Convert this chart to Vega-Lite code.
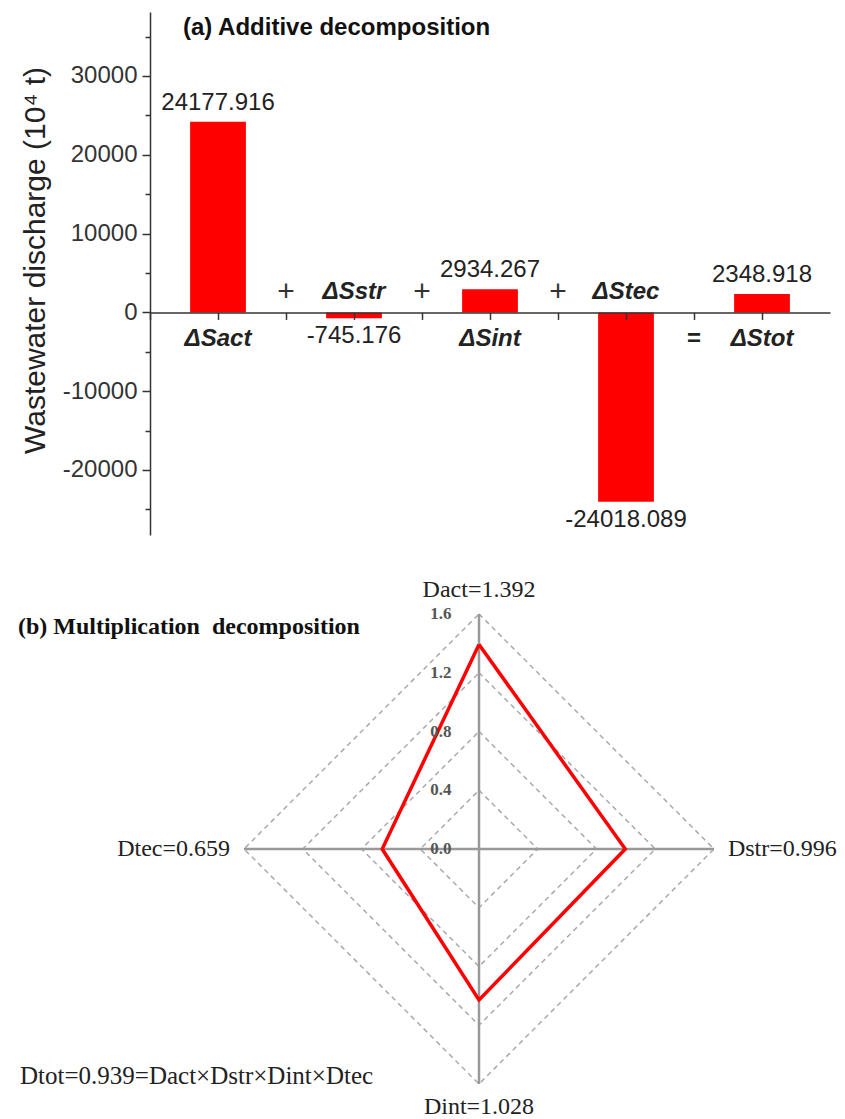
{
  "$schema": "https://vega.github.io/schema/vega-lite/v6.json",
  "background": "white",
  "padding": {"left": 17, "top": 12, "right": 5, "bottom": 0},
  "bounds": "flush",
  "spacing": 25,
  "config": {"view": {"stroke": null}, "axis": {"grid": false}},
  "datasets": {
    "additive": [
      {"term": "ΔSact", "value": 24177.916, "label": "24177.916"},
      {"term": "ΔSstr", "value": -745.176, "label": "-745.176"},
      {"term": "ΔSint", "value": 2934.267, "label": "2934.267"},
      {"term": "ΔStec", "value": -24018.089, "label": "-24018.089"},
      {"term": "ΔStot", "value": 2348.918, "label": "2348.918"}
    ],
    "ops": [
      {"term": "ΔSstr", "op": "+"},
      {"term": "ΔSint", "op": "+"},
      {"term": "ΔStec", "op": "+"},
      {"term": "ΔStot", "op": "="}
    ],
    "factors": [
      {"factor": "Dact", "value": 1.392, "dir": "up", "order": 1, "label": "Dact=1.392"},
      {"factor": "Dstr", "value": 0.996, "dir": "right", "order": 2, "label": "Dstr=0.996"},
      {"factor": "Dint", "value": 1.028, "dir": "down", "order": 3, "label": "Dint=1.028"},
      {"factor": "Dtec", "value": 0.659, "dir": "left", "order": 4, "label": "Dtec=0.659"},
      {"factor": "Dact", "value": 1.392, "dir": "up", "order": 5, "label": "Dact=1.392"}
    ],
    "grid": [
      {"level": 0.4, "k": 0, "dir": "up"}, {"level": 0.4, "k": 1, "dir": "right"}, {"level": 0.4, "k": 2, "dir": "down"}, {"level": 0.4, "k": 3, "dir": "left"}, {"level": 0.4, "k": 4, "dir": "up"},
      {"level": 0.8, "k": 0, "dir": "up"}, {"level": 0.8, "k": 1, "dir": "right"}, {"level": 0.8, "k": 2, "dir": "down"}, {"level": 0.8, "k": 3, "dir": "left"}, {"level": 0.8, "k": 4, "dir": "up"},
      {"level": 1.2, "k": 0, "dir": "up"}, {"level": 1.2, "k": 1, "dir": "right"}, {"level": 1.2, "k": 2, "dir": "down"}, {"level": 1.2, "k": 3, "dir": "left"}, {"level": 1.2, "k": 4, "dir": "up"},
      {"level": 1.6, "k": 0, "dir": "up"}, {"level": 1.6, "k": 1, "dir": "right"}, {"level": 1.6, "k": 2, "dir": "down"}, {"level": 1.6, "k": 3, "dir": "left"}, {"level": 1.6, "k": 4, "dir": "up"}
    ],
    "levels": [
      {"level": 0.0, "label": "0.0"},
      {"level": 0.4, "label": "0.4"},
      {"level": 0.8, "label": "0.8"},
      {"level": 1.2, "label": "1.2"},
      {"level": 1.6, "label": "1.6"}
    ],
    "one": [{}]
  },
  "vconcat": [
    {
      "width": 680,
      "height": 523,
      "resolve": {"axis": {"x": "independent", "y": "independent"}},
      "layer": [
        {
          "data": {"name": "additive"},
          "mark": {"type": "bar", "color": "#ff0000", "width": {"band": 0.41}},
          "encoding": {
            "x": {"field": "term", "type": "nominal",
              "scale": {"type": "band", "domain": ["ΔSact", "ΔSstr", "ΔSint", "ΔStec", "ΔStot"], "paddingInner": 0, "paddingOuter": 0},
              "axis": {"orient": "bottom", "offset": -222.6, "labels": false, "title": null, "tickSize": 7, "tickWidth": 1.5, "tickColor": "#333", "domainColor": "#333", "domainWidth": 1.5, "zindex": 1}},
            "y": {"field": "value", "type": "quantitative",
              "scale": {"domain": [-28250, 38120], "nice": false, "zero": false},
              "axis": {"orient": "left", "values": [-20000, -10000, 0, 10000, 20000, 30000], "labelExpr": "'' + datum.value",
                "labelFont": "Liberation Sans", "labelFontSize": 24, "labelColor": "#333", "labelPadding": 5, "labelFlush": false, "labelOverlap": false,
                "tickSize": 8, "tickWidth": 1.5, "tickColor": "#333", "domainColor": "#333", "domainWidth": 1.5,
                "title": "Wastewater discharge (10⁴ t)", "titleFont": "Liberation Sans", "titleFontSize": 30, "titleFontWeight": "normal", "titleColor": "#222", "titlePadding": 12, "titleY": 248}}
          }
        },
        {
          "data": {"name": "additive"},
          "transform": [{"filter": "datum.value > 0"}],
          "mark": {"type": "text", "font": "Liberation Sans", "fontSize": 24, "color": "#222", "baseline": "middle", "dy": -19},
          "encoding": {
            "x": {"field": "term", "type": "nominal",
              "scale": {"type": "band", "domain": ["ΔSact", "ΔSstr", "ΔSint", "ΔStec", "ΔStot"], "paddingInner": 0, "paddingOuter": 0},
              "axis": {"orient": "bottom", "offset": -222.6, "bandPosition": 0, "labels": false, "domain": false, "title": null, "tickSize": 7, "tickWidth": 1.5, "tickColor": "#333", "zindex": 1}},
            "y": {"field": "value", "type": "quantitative",
              "scale": {"domain": [-28250, 38120], "nice": false, "zero": false},
              "axis": {"orient": "left", "values": [-25000, -15000, -5000, 5000, 15000, 25000, 35000], "labels": false, "domain": false, "title": null, "tickSize": 5, "tickWidth": 1.5, "tickColor": "#333"}},
            "text": {"field": "label"}
          }
        },
        {
          "data": {"name": "additive"},
          "transform": [{"filter": "datum.value < 0"}],
          "mark": {"type": "text", "font": "Liberation Sans", "fontSize": 24, "color": "#222", "baseline": "middle", "dy": 18},
          "encoding": {
            "x": {"field": "term", "type": "nominal", "scale": {"type": "band", "domain": ["ΔSact", "ΔSstr", "ΔSint", "ΔStec", "ΔStot"], "paddingInner": 0, "paddingOuter": 0}, "axis": null},
            "y": {"field": "value", "type": "quantitative", "scale": {"domain": [-28250, 38120], "nice": false, "zero": false}, "axis": null},
            "text": {"field": "label"}
          }
        },
        {
          "data": {"name": "additive"},
          "transform": [{"filter": "datum.value > 0"}],
          "mark": {"type": "text", "font": "Liberation Sans", "fontSize": 24, "fontWeight": "bold", "fontStyle": "italic", "color": "#222", "baseline": "middle", "dy": 27},
          "encoding": {
            "x": {"field": "term", "type": "nominal", "scale": {"type": "band", "domain": ["ΔSact", "ΔSstr", "ΔSint", "ΔStec", "ΔStot"], "paddingInner": 0, "paddingOuter": 0}, "axis": null},
            "y": {"datum": 0, "type": "quantitative", "scale": {"domain": [-28250, 38120], "nice": false, "zero": false}, "axis": null},
            "text": {"field": "term"}
          }
        },
        {
          "data": {"name": "additive"},
          "transform": [{"filter": "datum.value < 0"}],
          "mark": {"type": "text", "font": "Liberation Sans", "fontSize": 24, "fontWeight": "bold", "fontStyle": "italic", "color": "#222", "baseline": "middle", "dy": -20},
          "encoding": {
            "x": {"field": "term", "type": "nominal", "scale": {"type": "band", "domain": ["ΔSact", "ΔSstr", "ΔSint", "ΔStec", "ΔStot"], "paddingInner": 0, "paddingOuter": 0}, "axis": null},
            "y": {"datum": 0, "type": "quantitative", "scale": {"domain": [-28250, 38120], "nice": false, "zero": false}, "axis": null},
            "text": {"field": "term"}
          }
        },
        {
          "data": {"name": "ops"},
          "transform": [{"filter": "datum.op === '+'"}],
          "mark": {"type": "text", "font": "Liberation Sans", "fontSize": 30, "color": "#333", "baseline": "middle", "dy": -20},
          "encoding": {
            "x": {"field": "term", "type": "nominal", "bandPosition": 0, "scale": {"type": "band", "domain": ["ΔSact", "ΔSstr", "ΔSint", "ΔStec", "ΔStot"], "paddingInner": 0, "paddingOuter": 0}, "axis": null},
            "y": {"datum": 0, "type": "quantitative", "scale": {"domain": [-28250, 38120], "nice": false, "zero": false}, "axis": null},
            "text": {"field": "op"}
          }
        },
        {
          "data": {"name": "ops"},
          "transform": [{"filter": "datum.op === '='"}],
          "mark": {"type": "text", "font": "Liberation Sans", "fontSize": 24, "fontWeight": "bold", "color": "#222", "baseline": "middle", "dy": 27},
          "encoding": {
            "x": {"field": "term", "type": "nominal", "bandPosition": 0, "scale": {"type": "band", "domain": ["ΔSact", "ΔSstr", "ΔSint", "ΔStec", "ΔStot"], "paddingInner": 0, "paddingOuter": 0}, "axis": null},
            "y": {"datum": 0, "type": "quantitative", "scale": {"domain": [-28250, 38120], "nice": false, "zero": false}, "axis": null},
            "text": {"field": "op"}
          }
        },
        {
          "data": {"name": "one"},
          "mark": {"type": "text", "font": "Liberation Sans", "fontSize": 24, "fontWeight": "bold", "color": "#111", "align": "left", "baseline": "middle", "dx": 33, "text": "(a) Additive decomposition"},
          "encoding": {
            "x": {"datum": "ΔSact", "type": "nominal", "bandPosition": 0, "scale": {"type": "band", "domain": ["ΔSact", "ΔSstr", "ΔSint", "ΔStec", "ΔStot"], "paddingInner": 0, "paddingOuter": 0}, "axis": null},
            "y": {"datum": 36100, "type": "quantitative", "scale": {"domain": [-28250, 38120], "nice": false, "zero": false}, "axis": null}
          }
        }
      ]
    },
    {
      "width": 680,
      "height": 559,
      "layer": [
        {
          "data": {"name": "grid"},
          "transform": [
            {"calculate": "datum.dir === 'right' ? datum.level : datum.dir === 'left' ? -datum.level : 0", "as": "gx"},
            {"calculate": "datum.dir === 'up' ? datum.level : datum.dir === 'down' ? -datum.level : 0", "as": "gy"}
          ],
          "mark": {"type": "line", "color": "#aaaaaa", "strokeWidth": 1.5, "strokeDash": [5, 4]},
          "encoding": {
            "x": {"field": "gx", "type": "quantitative", "scale": {"domain": [-2.24, 2.3898], "nice": false, "zero": false}, "axis": null},
            "y": {"field": "gy", "type": "quantitative", "scale": {"domain": [-1.8383, 1.9677], "nice": false, "zero": false}, "axis": null},
            "detail": {"field": "level", "type": "nominal"},
            "order": {"field": "k", "type": "quantitative"}
          }
        },
        {
          "data": {"name": "one"},
          "mark": {"type": "rule", "color": "#999999", "strokeWidth": 2.5},
          "encoding": {
            "x": {"datum": -1.6, "type": "quantitative", "scale": {"domain": [-2.24, 2.3898], "nice": false, "zero": false}, "axis": null},
            "x2": {"datum": 1.6},
            "y": {"datum": 0, "type": "quantitative", "scale": {"domain": [-1.8383, 1.9677], "nice": false, "zero": false}, "axis": null}
          }
        },
        {
          "data": {"name": "one"},
          "mark": {"type": "rule", "color": "#999999", "strokeWidth": 2.5},
          "encoding": {
            "x": {"datum": 0, "type": "quantitative", "scale": {"domain": [-2.24, 2.3898], "nice": false, "zero": false}, "axis": null},
            "y": {"datum": -1.6, "type": "quantitative", "scale": {"domain": [-1.8383, 1.9677], "nice": false, "zero": false}, "axis": null},
            "y2": {"datum": 1.6}
          }
        },
        {
          "data": {"name": "factors"},
          "transform": [
            {"calculate": "datum.dir === 'right' ? datum.value : datum.dir === 'left' ? -datum.value : 0", "as": "px"},
            {"calculate": "datum.dir === 'up' ? datum.value : datum.dir === 'down' ? -datum.value : 0", "as": "py"}
          ],
          "mark": {"type": "line", "color": "#ff0000", "strokeWidth": 3.5},
          "encoding": {
            "x": {"field": "px", "type": "quantitative", "scale": {"domain": [-2.24, 2.3898], "nice": false, "zero": false}, "axis": null},
            "y": {"field": "py", "type": "quantitative", "scale": {"domain": [-1.8383, 1.9677], "nice": false, "zero": false}, "axis": null},
            "order": {"field": "order", "type": "quantitative"}
          }
        },
        {
          "data": {"name": "levels"},
          "mark": {"type": "text", "font": "Liberation Serif", "fontSize": 17, "fontWeight": "bold", "color": "#555", "align": "center", "baseline": "middle"},
          "encoding": {
            "x": {"datum": -0.259, "type": "quantitative", "scale": {"domain": [-2.24, 2.3898], "nice": false, "zero": false}, "axis": null},
            "y": {"field": "level", "type": "quantitative", "scale": {"domain": [-1.8383, 1.9677], "nice": false, "zero": false}, "axis": null},
            "text": {"field": "label"}
          }
        },
        {
          "data": {"name": "factors"},
          "transform": [{"filter": "datum.order === 1"}],
          "mark": {"type": "text", "font": "Liberation Serif", "fontSize": 24, "color": "#222", "align": "center", "baseline": "middle"},
          "encoding": {
            "x": {"datum": 0, "type": "quantitative", "scale": {"domain": [-2.24, 2.3898], "nice": false, "zero": false}, "axis": null},
            "y": {"datum": 1.763, "type": "quantitative", "scale": {"domain": [-1.8383, 1.9677], "nice": false, "zero": false}, "axis": null},
            "text": {"field": "label"}
          }
        },
        {
          "data": {"name": "factors"},
          "transform": [{"filter": "datum.order === 2"}],
          "mark": {"type": "text", "font": "Liberation Serif", "fontSize": 24, "color": "#222", "align": "left", "baseline": "middle"},
          "encoding": {
            "x": {"datum": 1.695, "type": "quantitative", "scale": {"domain": [-2.24, 2.3898], "nice": false, "zero": false}, "axis": null},
            "y": {"datum": 0, "type": "quantitative", "scale": {"domain": [-1.8383, 1.9677], "nice": false, "zero": false}, "axis": null},
            "text": {"field": "label"}
          }
        },
        {
          "data": {"name": "factors"},
          "transform": [{"filter": "datum.order === 3"}],
          "mark": {"type": "text", "font": "Liberation Serif", "fontSize": 24, "color": "#222", "align": "center", "baseline": "middle"},
          "encoding": {
            "x": {"datum": 0, "type": "quantitative", "scale": {"domain": [-2.24, 2.3898], "nice": false, "zero": false}, "axis": null},
            "y": {"datum": -1.757, "type": "quantitative", "scale": {"domain": [-1.8383, 1.9677], "nice": false, "zero": false}, "axis": null},
            "text": {"field": "label"}
          }
        },
        {
          "data": {"name": "factors"},
          "transform": [{"filter": "datum.order === 4"}],
          "mark": {"type": "text", "font": "Liberation Serif", "fontSize": 24, "color": "#222", "align": "right", "baseline": "middle"},
          "encoding": {
            "x": {"datum": -1.695, "type": "quantitative", "scale": {"domain": [-2.24, 2.3898], "nice": false, "zero": false}, "axis": null},
            "y": {"datum": 0, "type": "quantitative", "scale": {"domain": [-1.8383, 1.9677], "nice": false, "zero": false}, "axis": null},
            "text": {"field": "label"}
          }
        },
        {
          "data": {"name": "one"},
          "mark": {"type": "text", "font": "Liberation Serif", "fontSize": 25, "letterSpacing": 0.5, "color": "#222", "align": "left", "baseline": "middle", "text": "Dtot=0.939=Dact×Dstr×Dint×Dtec"},
          "encoding": {
            "x": {"datum": -3.125, "type": "quantitative", "scale": {"domain": [-2.24, 2.3898], "nice": false, "zero": false}, "axis": null},
            "y": {"datum": -1.5455, "type": "quantitative", "scale": {"domain": [-1.8383, 1.9677], "nice": false, "zero": false}, "axis": null}
          }
        },
        {
          "data": {"name": "one"},
          "mark": {"type": "text", "font": "Liberation Serif", "fontSize": 24, "fontWeight": "bold", "color": "#111", "align": "left", "baseline": "middle", "text": "(b) Multiplication\u00a0 decomposition"},
          "encoding": {
            "x": {"datum": -3.139, "type": "quantitative", "scale": {"domain": [-2.24, 2.3898], "nice": false, "zero": false}, "axis": null},
            "y": {"datum": 1.5115, "type": "quantitative", "scale": {"domain": [-1.8383, 1.9677], "nice": false, "zero": false}, "axis": null}
          }
        }
      ]
    }
  ]
}
